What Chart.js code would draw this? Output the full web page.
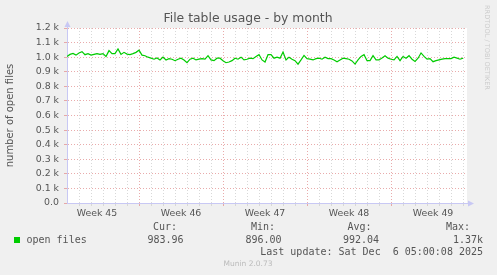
<!DOCTYPE html>
<html>
<head>
<meta charset="utf-8">
<script src="https://cdn.jsdelivr.net/npm/chart.js@4/dist/chart.umd.min.js"></script>
<style>
  html, body { margin: 0; padding: 0; background: #f0f0f0; }
  #wrap { width: 497px; height: 275px; }
</style>
</head>
<body>
<div id="wrap"><canvas id="c" width="497" height="275"></canvas></div>
<script>
// open files, one value every 6 hours over 33 days
const openFiles = [
  1005, 1019, 1026, 1014,  1029, 1038, 1017, 1024,  1014, 1019, 1024, 1019,
  1024, 1005, 1045, 1024,  1024, 1057, 1019, 1033,  1021, 1017, 1024, 1033,
  1048, 1014, 1010, 1000,  993, 986, 995, 981,      1000, 981, 990, 986,
  976, 986, 993, 981,      962, 986, 993, 981,      986, 990, 986, 1010,
  981, 976, 993, 993,      976, 962, 967, 976,      993, 986, 1000, 981,
  986, 993, 990, 1005,     1017, 981, 967, 1017,    1017, 993, 1000, 993,
  1036, 981, 1000, 986,    976, 952, 981, 1012,     990, 986, 981, 990,
  993, 986, 1000, 990,     990, 981, 969, 981,      993, 990, 986, 974,
  952, 981, 1005, 1017,    976, 976, 1010, 981,     981, 995, 1010, 993,
  986, 981, 1005, 976,     1005, 993, 1010, 986,    971, 993, 1029, 1005,
  986, 990, 969, 976,      981, 986, 990, 990,      990, 1000, 993, 986,
  993
];
const stepDays = 0.25;
const totalDays = 33.33;
const weekStarts = [6, 13, 20, 27];
const weekLabels = ['Week 45', 'Week 46', 'Week 47', 'Week 48', 'Week 49'];
const weekCenters = [2.5, 9.5, 16.5, 23.5, 30.5];

const legendCur = '983.96';
const legendMin = '896.00';
const legendAvg = '992.04';
const legendMax = '1.37k';
const lastUpdate = 'Last update: Sat Dec  6 05:00:08 2025';

const tickFont = { family: 'DejaVu Sans', size: 9.4 };
const textCol = '#555555';
const axisCol = '#c8c8f4';
const majorCol = 'rgba(228,150,150,0.8)';
const minorCol = 'rgba(212,212,212,0.9)';

const munin = {
  id: 'munin',
  beforeDraw(chart) {
    const { ctx, chartArea: a } = chart;
    ctx.save();
    ctx.fillStyle = '#f0f0f0';
    ctx.fillRect(0, 0, chart.width, chart.height);
    ctx.fillStyle = '#ffffff';
    ctx.fillRect(a.left, a.top, a.right - a.left, a.bottom - a.top);
    ctx.restore();
  },
  afterDraw(chart) {
    const { ctx, chartArea: a } = chart;
    ctx.save();
    // axis extensions and arrows
    ctx.strokeStyle = axisCol;
    ctx.fillStyle = axisCol;
    ctx.lineWidth = 1;
    ctx.beginPath();
    ctx.moveTo(a.left + 0.5, a.top);
    ctx.lineTo(a.left + 0.5, a.top - 2);
    ctx.moveTo(a.right, a.bottom + 0.5);
    ctx.lineTo(a.right + 2, a.bottom + 0.5);
    ctx.stroke();
    ctx.beginPath();
    ctx.moveTo(a.left + 0.5, a.top - 7);
    ctx.lineTo(a.left - 2.5, a.top - 1);
    ctx.lineTo(a.left + 3.5, a.top - 1);
    ctx.closePath();
    ctx.fill();
    ctx.beginPath();
    ctx.moveTo(a.right + 7, a.bottom + 0.5);
    ctx.lineTo(a.right + 1, a.bottom - 2.5);
    ctx.lineTo(a.right + 1, a.bottom + 3.5);
    ctx.closePath();
    ctx.fill();

    // title
    ctx.fillStyle = textCol;
    ctx.textBaseline = 'middle';
    ctx.textAlign = 'center';
    ctx.font = '12.4px "DejaVu Sans"';
    ctx.fillText('File table usage - by month', 248, 19);

    // y axis title
    ctx.save();
    ctx.translate(10, (a.top + a.bottom) / 2);
    ctx.rotate(-Math.PI / 2);
    ctx.font = '10px "DejaVu Sans"';
    ctx.fillText('number of open files', 0, 0);
    ctx.restore();

    // rrdtool credit
    ctx.save();
    ctx.translate(487, 5);
    ctx.rotate(Math.PI / 2);
    ctx.textAlign = 'left';
    ctx.fillStyle = '#cccccc';
    ctx.font = '6.6px "DejaVu Sans"';
    ctx.fillText('RRDTOOL / TOBI OETIKER', 0, 0);
    ctx.restore();

    // legend
    ctx.fillStyle = '#00cc00';
    ctx.fillRect(14, 237, 6, 6);
    ctx.fillStyle = textCol;
    ctx.font = '10px "DejaVu Sans Mono"';
    ctx.textAlign = 'left';
    ctx.fillText('open files', 26.5, 240);
    ctx.textAlign = 'right';
    ctx.fillText('Cur:', 177, 227.5);
    ctx.fillText('Min:', 275, 227.5);
    ctx.fillText('Avg:', 371.5, 227.5);
    ctx.fillText('Max:', 470, 227.5);
    ctx.fillText(legendCur, 183.5, 240);
    ctx.fillText(legendMin, 281.5, 240);
    ctx.fillText(legendAvg, 379, 240);
    ctx.fillText(legendMax, 483, 240);
    ctx.fillText(lastUpdate, 483, 252);

    ctx.textAlign = 'center';
    ctx.fillStyle = '#bbbbbb';
    ctx.font = '7.5px "DejaVu Sans"';
    ctx.fillText('Munin 2.0.73', 248, 264);
    ctx.restore();
  }
};

new Chart('c', {
  type: 'line',
  data: {
    datasets: [{
      data: openFiles.map((v, i) => ({ x: i * stepDays, y: v })),
      borderColor: '#00cc00',
      borderWidth: 1.2,
      pointRadius: 0,
      tension: 0,
      fill: false
    }]
  },
  options: {
    responsive: false,
    animation: false,
    events: [],
    layout: { padding: { top: 28, right: 30, bottom: 0, left: 0 } },
    plugins: { legend: { display: false }, tooltip: { enabled: false } },
    scales: {
      x: {
        type: 'linear',
        min: 0,
        max: totalDays,
        weight: 0,
        afterBuildTicks: s => {
          const t = [];
          for (let d = 1; d <= 33; d++) t.push({ value: d });
          s.ticks = t;
        },
        afterFit: s => { s.height = 3; },
        ticks: { display: false },
        grid: {
          color: c => weekStarts.includes(c.tick && c.tick.value) ? majorCol : minorCol,
          tickColor: c => weekStarts.includes(c.tick && c.tick.value) ? majorCol : minorCol,
          lineWidth: 1,
          drawTicks: true,
          tickLength: 3
        },
        border: { color: axisCol, dash: [1, 2] }
      },
      x2: {
        type: 'linear',
        position: 'bottom',
        min: 0,
        max: totalDays,
        weight: 1,
        afterBuildTicks: s => { s.ticks = weekCenters.map(v => ({ value: v })); },
        afterFit: s => { s.height = 69; },
        ticks: {
          font: tickFont,
          color: textCol,
          padding: 2,
          maxRotation: 0,
          autoSkip: false,
          callback: v => weekLabels[weekCenters.indexOf(v)]
        },
        grid: { display: false, drawTicks: false },
        border: { display: false }
      },
      y: {
        min: 0,
        max: 1200,
        afterFit: s => { s.width = 67; },
        ticks: {
          stepSize: 100,
          font: tickFont,
          color: textCol,
          padding: 5,
          callback: v => v === 0 ? '0.0' : (v / 1000).toFixed(1) + ' k'
        },
        grid: {
          color: c => c.tick && c.tick.value === 0 ? 'rgba(0,0,0,0)' : majorCol,
          tickColor: majorCol,
          lineWidth: 1,
          drawTicks: true,
          tickLength: 3
        },
        border: { color: axisCol, dash: [1, 2] }
      }
    }
  },
  plugins: [munin]
});
</script>
</body>
</html>
